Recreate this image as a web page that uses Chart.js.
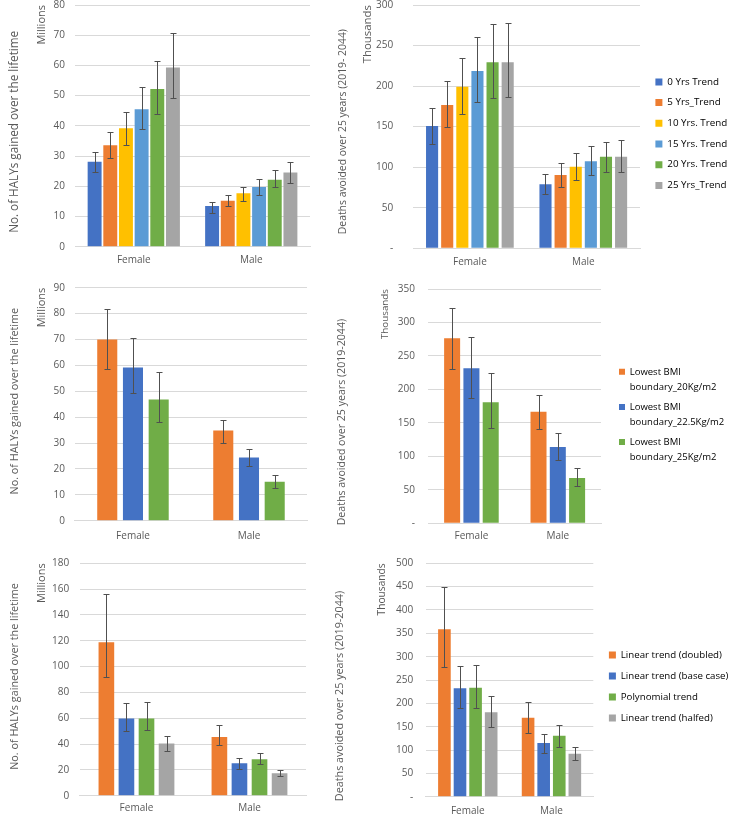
<!DOCTYPE html>
<html>
<head>
<meta charset="utf-8">
<script src="https://cdn.jsdelivr.net/npm/chart.js@4.4.1/dist/chart.umd.min.js"></script>
<style>
  body { margin: 0; background: #fff; }
  #wrap { position: relative; width: 731px; height: 817px; overflow: hidden; }
  canvas { position: absolute; }
</style>
</head>
<body>
<div id="wrap">
  <canvas id="c1" width="325" height="272" style="left:0;top:0"></canvas>
  <canvas id="c2" width="406" height="272" style="left:325px;top:0"></canvas>
  <canvas id="c3" width="325" height="278" style="left:0;top:270px"></canvas>
  <canvas id="c4" width="406" height="278" style="left:325px;top:270px"></canvas>
  <canvas id="c5" width="325" height="277" style="left:0;top:540px"></canvas>
  <canvas id="c6" width="406" height="277" style="left:325px;top:540px"></canvas>
</div>
<script>
// data, one inner pair per series: [Female, Male]
const sexes = ['Female', 'Male'];

const trendNames = ['0 Yrs Trend', '5 Yrs_Trend', '10 Yrs. Trend', '15 Yrs. Trend', '20 Yrs. Trend', '25 Yrs_Trend'];
const halysTrend     = [[28.1, 13.5], [33.6, 15.2], [39.2, 17.7], [45.5, 19.8], [52.2, 22.2], [59.3, 24.6]];
const halysTrendLow  = [[24.6, 11.0], [29.2, 13.6], [33.7, 15.2], [39.0, 17.1], [43.8, 19.6], [49.3, 21.2]];
const halysTrendHigh = [[31.2, 14.7], [38.0, 17.2], [44.7, 19.6], [52.8, 22.5], [61.3, 25.3], [70.8, 28.1]];
const deathsTrend     = [[150.8, 78.9], [176.7, 90.4], [199.3, 100.7], [218.7, 107.3], [229.3, 113.0], [229.3, 113.0]];
const deathsTrendLow  = [[128.2, 66.6], [149.2, 75.2], [166.0, 84.3], [180.0, 90.4], [185.8, 93.7], [186.6, 93.7]];
const deathsTrendHigh = [[172.6, 91.2], [206.7, 105.6], [234.3, 117.1], [260.6, 126.6], [276.2, 131.5], [277.4, 133.2]];

const bmiNames = [['Lowest BMI', 'boundary_20Kg/m2'], ['Lowest BMI', 'boundary_22.5Kg/m2'], ['Lowest BMI', 'boundary_25Kg/m2']];
const halysBmi     = [[70.0, 34.8], [59.2, 24.4], [46.8, 15.0]];
const halysBmiLow  = [[58.7, 30.2], [49.3, 21.0], [38.2, 12.7]];
const halysBmiHigh = [[81.7, 39.0], [70.7, 27.8], [57.5, 17.6]];
const deathsBmi     = [[276.3, 166.8], [231.5, 114.0], [180.7, 67.7]];
const deathsBmiLow  = [[231.0, 140.4], [187.7, 94.1], [141.9, 56.2]];
const deathsBmiHigh = [[322.0, 191.6], [278.7, 134.4], [225.0, 82.1]];

const scenarioNames = ['Linear trend (doubled)', 'Linear trend (base case)', 'Polynomial trend', 'Linear trend (halfed)'];
const halysScen     = [[118.8, 45.5], [59.7, 25.1], [59.7, 28.2], [40.5, 17.3]];
const halysScenLow  = [[92.2, 39.0], [50.1, 20.9], [51.1, 24.3], [34.6, 15.5]];
const halysScenHigh = [[156.3, 54.5], [71.5, 28.9], [72.6, 32.8], [46.2, 19.9]];
const deathsScen     = [[358.6, 169.3], [232.1, 115.0], [233.6, 130.7], [180.7, 92.1]];
const deathsScenLow  = [[277.9, 137.1], [189.3, 92.9], [190.7, 107.1], [150.0, 78.6]];
const deathsScenHigh = [[450.0, 202.1], [280.7, 135.0], [282.9, 152.9], [215.0, 107.1]];

const BLUE = '#4472C4', ORANGE = '#ED7D31', YELLOW = '#FFC000', LBLUE = '#5B9BD5', GREEN = '#70AD47', GREY = '#A5A5A5';
const trendColors = [BLUE, ORANGE, YELLOW, LBLUE, GREEN, GREY];
const bmiColors = [ORANGE, BLUE, GREEN];
const scenColors = [ORANGE, BLUE, GREEN, GREY];

const halysTitle = 'No. of HALYs gained over the lifetime';

Chart.defaults.font.family = "'Open Sans', sans-serif";
Chart.defaults.color = '#595959';

// whiskers from low to high on each bar
const errorBars = {
  id: 'errorBars',
  afterDatasetsDraw(chart) {
    const ctx = chart.ctx;
    const y = chart.scales.y;
    ctx.save();
    ctx.strokeStyle = '#505050';
    ctx.lineWidth = 1;
    chart.data.datasets.forEach((ds, i) => {
      chart.getDatasetMeta(i).data.forEach((bar, j) => {
        const x = Math.round(bar.x) + 0.5;
        const top = Math.round(y.getPixelForValue(ds.high[j])) + 0.5;
        const bot = Math.round(y.getPixelForValue(ds.low[j])) + 0.5;
        ctx.beginPath();
        ctx.moveTo(x, top); ctx.lineTo(x, bot);
        ctx.moveTo(x - 3, top); ctx.lineTo(x + 3, top);
        ctx.moveTo(x - 3, bot); ctx.lineTo(x + 3, bot);
        ctx.stroke();
      });
    });
    ctx.restore();
  }
};

// fixed legend width and small shifts of the title / legend boxes
const nudge = {
  id: 'nudge',
  afterInit(chart, args, opts) {
    const shift = (box, d) => {
      if (!box || !d) return;
      const draw = box.draw;
      box.draw = function (...a) {
        this.left += d.dx; this.right += d.dx; this.top += d.dy; this.bottom += d.dy;
        draw.apply(this, a);
        this.left -= d.dx; this.right -= d.dx; this.top -= d.dy; this.bottom -= d.dy;
      };
    };
    if (opts.legendWidth) {
      const fit = chart.legend.fit;
      chart.legend.fit = function () {
        fit.call(this);
        this.width = opts.legendWidth;
      };
    }
    shift(chart.legend, opts.legend);
    shift(chart.titleBlock, opts.title);
  }
};

function panel(id, p) {
  const datasets = p.names.map((name, i) => ({
    label: Array.isArray(name) ? name.join(' ') : name,
    legendText: name,
    data: p.values[i],
    low: p.low[i],
    high: p.high[i],
    backgroundColor: p.colors[i],
    categoryPercentage: p.cat,
    barPercentage: p.bar
  }));

  return new Chart(document.getElementById(id), {
    type: 'bar',
    data: { labels: sexes, datasets: datasets },
    options: {
      responsive: false,
      animation: false,
      layout: { padding: { top: p.top, right: p.right || 0, bottom: 0, left: 0 } },
      plugins: {
        title: {
          display: true,
          text: p.title,
          position: 'left',
          fullSize: false,
          color: '#595959',
          font: { size: p.titleSize, weight: 'normal' },
          padding: { top: p.tPad[0], bottom: p.tPad[1] }
        },
        legend: {
          display: !!p.legend,
          position: 'right',
          fullSize: false,
          labels: {
            boxWidth: p.legend ? p.legend.box : 7,
            boxHeight: p.legend ? p.legend.box : 7,
            padding: p.legend ? p.legend.pad : 10,
            color: '#595959',
            font: p.legend ? p.legend.font : { size: 10 },
            generateLabels: (chart) => chart.data.datasets.map((ds, i) => ({
              text: ds.legendText,
              fillStyle: ds.backgroundColor,
              strokeStyle: ds.backgroundColor,
              lineWidth: 0,
              hidden: false,
              datasetIndex: i
            }))
          }
        },
        tooltip: { enabled: false },
        nudge: {
          legendWidth: p.legend ? p.legend.width : 0,
          legend: p.legend ? { dx: p.legend.dx, dy: p.legend.dy } : null,
          title: { dx: 0, dy: p.tDy }
        }
      },
      scales: {
        x: {
          grid: { display: false, drawTicks: false },
          border: { display: true, color: '#D9D9D9' },
          ticks: { padding: p.xPad, font: { size: 10 } },
          afterFit: (s) => { s.height = p.xh; }
        },
        y: {
          min: 0,
          max: p.max,
          grid: { color: '#D9D9D9', drawTicks: false },
          border: { display: false },
          ticks: {
            stepSize: p.step,
            padding: p.yPad,
            font: { size: 10 },
            callback: (v) => (v === 0 && p.dash ? '-' : v)
          },
          title: { display: true, text: p.unit, align: 'end', padding: 0, font: { size: p.unitSize } },
          afterFit: (s) => {
            s.width = p.yw;
            s.paddingTop = 5;
            s.paddingBottom = 5;
          }
        }
      }
    },
    plugins: [errorBars, nudge]
  });
}

panel('c1', {
  names: trendNames, values: halysTrend, low: halysTrendLow, high: halysTrendHigh, colors: trendColors,
  cat: 0.8, bar: 0.89, max: 80, step: 10, unit: 'Millions', unitSize: 11,
  title: halysTitle, titleSize: 11.7, tPad: [8, 13.4], tDy: 6,
  top: 5, right: 15, xh: 25.3, xPad: 7.3, yw: 39.6, yPad: 10
});

panel('c2', {
  names: trendNames, values: deathsTrend, low: deathsTrendLow, high: deathsTrendHigh, colors: trendColors,
  cat: 0.8, bar: 0.8, max: 300, step: 50, unit: 'Thousands', unitSize: 11.4, dash: true,
  title: 'Deaths avoided over 25 years (2019- 2044)', titleSize: 10.4, tPad: [11.8, 12], tDy: 5,
  top: 5, xh: 23.7, xPad: 8, yw: 51.9, yPad: 20,
  legend: { width: 91, box: 7, pad: 10.9, font: { size: 9.8 }, dx: 4.5, dy: 7 }
});

panel('c3', {
  names: bmiNames, values: halysBmi, low: halysBmiLow, high: halysBmiHigh, colors: bmiColors,
  cat: 0.665, bar: 0.78, max: 90, step: 10, unit: 'Millions', unitSize: 11,
  title: halysTitle, titleSize: 10.8, tPad: [8.5, 13.9], tDy: -3,
  top: 17.7, right: 18, xh: 27.3, xPad: 9, yw: 39.6, yPad: 10
});

panel('c4', {
  names: bmiNames, values: deathsBmi, low: deathsBmiLow, high: deathsBmiHigh, colors: bmiColors,
  cat: 0.67, bar: 0.83, max: 350, step: 50, unit: 'Thousands', unitSize: 9.8, dash: true,
  title: 'Deaths avoided over 25 years (2019-2044)', titleSize: 10.6, tPad: [10.6, 30.7], tDy: 16,
  top: 19, xh: 24.7, xPad: 6.4, yw: 49.2, yPad: 13.3,
  legend: { width: 130, box: 6, pad: 5, font: { size: 9.5, lineHeight: 1.58 }, dx: 13, dy: 11 }
});

panel('c5', {
  names: scenarioNames, values: halysScen, low: halysScenLow, high: halysScenHigh, colors: scenColors,
  cat: 0.71, bar: 0.78, max: 180, step: 20, unit: 'Millions', unitSize: 11,
  title: halysTitle, titleSize: 10.8, tPad: [8.5, 13.9], tDy: -3,
  top: 23.3, right: 19, xh: 21.3, xPad: 6.3, yw: 44.6, yPad: 10.7
});

panel('c6', {
  names: scenarioNames, values: deathsScen, low: deathsScenLow, high: deathsScenHigh, colors: scenColors,
  cat: 0.745, bar: 0.81, max: 500, step: 50, unit: 'Thousands', unitSize: 10.2, dash: true,
  title: 'Deaths avoided over 25 years (2019-2044)', titleSize: 10.8, tPad: [8.5, 29.4], tDy: 16,
  top: 23.3, xh: 20.3, xPad: 8, yw: 50.1, yPad: 12.7,
  legend: { width: 137.7, box: 7, pad: 11.3, font: { size: 9.7 }, dx: 4.3, dy: 6.5 }
});
</script>
</body>
</html>
